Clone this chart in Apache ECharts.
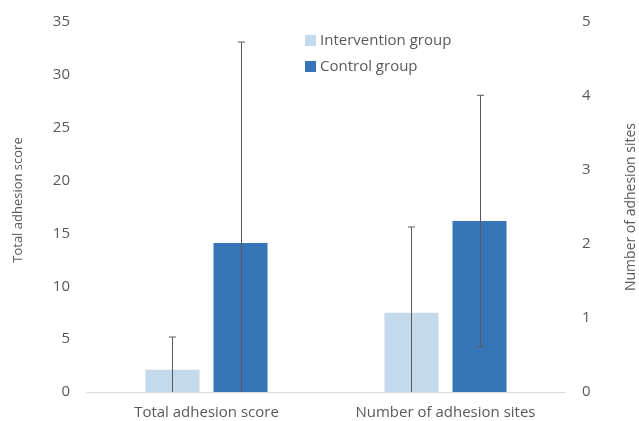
<!DOCTYPE html>
<html>
<head>
<meta charset="utf-8">
<script src="https://cdn.jsdelivr.net/npm/echarts@6/dist/echarts.min.js"></script>
<style>
  html, body { margin: 0; padding: 0; background: #fff; }
  #chart { width: 639px; height: 421px; }
</style>
</head>
<body>
<div id="chart"></div>
<script>
// Outcome measures (x-axis categories)
const categories = ['Total adhesion score', 'Number of adhesion sites'];
const groups = ['Intervention group', 'Control group'];

// Total adhesion score (left axis): mean and SD per group
const scoreMean = [2.1, 14.1];
const scoreSD = [3.1, 19.0];

// Number of adhesion sites (right axis): mean and SD per group
const sitesMean = [1.07, 2.31];
const sitesSD = [1.16, 1.70];

// Axis tick settings
const scoreTicks = { min: 0, max: 35, interval: 5 };
const sitesTicks = { min: 0, max: 5, interval: 1 };

const BAR_RATIO = 0.226;
const GAP_RATIO = 0.26;
const colors = ['#c3d9ec', '#3676b8'];
const FONT = '"Open Sans"';

function barData(values, catIndex, gi) {
  return categories.map((c, i) => (i === catIndex ? values[gi] : '-'));
}

// Error bars: mean ± SD, lower end cut at zero
function errorData(mean, sd, catIndex) {
  return groups.map((g, gi) => [
    catIndex, gi,
    Math.max(0, mean[gi] - sd[gi]),
    mean[gi] + sd[gi]
  ]);
}

function renderError(params, api) {
  const cat = api.value(0);
  const grp = api.value(1);
  const lo = api.value(2);
  const hi = api.value(3);
  const band = api.size([1, 0])[0];
  const bw = band * BAR_RATIO;
  const off = (grp === 0 ? -1 : 1) * (bw + bw * GAP_RATIO) / 2;
  const pHi = api.coord([cat, hi]);
  const pLo = api.coord([cat, lo]);
  const x = Math.round(pHi[0] + off) + 0.5;
  const cap = 3.5;
  const style = { stroke: '#595959', lineWidth: 1 };
  const children = [
    { type: 'line', shape: { x1: x, y1: pLo[1], x2: x, y2: pHi[1] }, style },
    { type: 'line', shape: { x1: x - cap, y1: pHi[1], x2: x + cap, y2: pHi[1] }, style }
  ];
  if (lo > 0) {
    children.push({ type: 'line', shape: { x1: x - cap, y1: pLo[1], x2: x + cap, y2: pLo[1] }, style });
  }
  return { type: 'group', children };
}

const chart = echarts.init(document.getElementById('chart'));

const labelStyle = { color: '#595959', fontSize: 15, fontFamily: FONT };
const titleStyle = { color: '#595959', fontSize: 13, fontFamily: FONT };

chart.setOption({
  animation: false,
  textStyle: { fontFamily: FONT },
  grid: { left: 87, right: 74, top: 22, bottom: 29, containLabel: false, outerBoundsMode: 'none' },
  legend: {
    data: groups,
    orient: 'vertical',
    left: 300,
    top: 28,
    itemWidth: 11,
    itemHeight: 11,
    itemGap: 11,
    icon: 'rect',
    textStyle: { color: '#595959', fontSize: 15, fontFamily: FONT, padding: [0, 0, 0, -1] },
    selectedMode: false
  },
  xAxis: [
    {
      type: 'category',
      data: categories,
      axisLine: { lineStyle: { color: '#d9d9d9', width: 1 } },
      axisTick: { show: false },
      axisLabel: Object.assign({ margin: 13 }, labelStyle)
    },
    {
      type: 'category',
      data: categories,
      show: false
    }
  ],
  yAxis: [
    Object.assign({
      type: 'value',
      position: 'left',
      name: 'Total adhesion score',
      nameLocation: 'middle',
      nameGap: 62,
      nameTextStyle: Object.assign({}, titleStyle, { padding: [0, 0, 0, 14] }),
      axisLine: { show: false },
      axisTick: { show: false },
      splitLine: { show: false },
      axisLabel: Object.assign({ margin: 17 }, labelStyle)
    }, scoreTicks),
    Object.assign({
      type: 'value',
      position: 'right',
      name: 'Number of adhesion sites',
      nameLocation: 'middle',
      nameGap: 59,
      nameTextStyle: Object.assign({}, titleStyle, { fontSize: 14 }),
      axisLine: { show: false },
      axisTick: { show: false },
      splitLine: { show: false },
      axisLabel: Object.assign({ margin: 17 }, labelStyle)
    }, sitesTicks)
  ],
  series: [
    // Total adhesion score bars
    ...groups.map((g, gi) => ({
      name: g,
      type: 'bar',
      xAxisIndex: 0,
      yAxisIndex: 0,
      barWidth: (BAR_RATIO * 100) + '%',
      barGap: (GAP_RATIO * 100) + '%',
      itemStyle: { color: colors[gi] },
      data: barData(scoreMean, 0, gi)
    })),
    // Number of adhesion sites bars
    ...groups.map((g, gi) => ({
      name: g,
      type: 'bar',
      xAxisIndex: 1,
      yAxisIndex: 1,
      barWidth: (BAR_RATIO * 100) + '%',
      barGap: (GAP_RATIO * 100) + '%',
      itemStyle: { color: colors[gi] },
      data: barData(sitesMean, 1, gi)
    })),
    {
      type: 'custom',
      xAxisIndex: 0,
      yAxisIndex: 0,
      z: 5,
      renderItem: renderError,
      encode: { x: 0, y: [2, 3] },
      data: errorData(scoreMean, scoreSD, 0)
    },
    {
      type: 'custom',
      xAxisIndex: 1,
      yAxisIndex: 1,
      z: 5,
      renderItem: renderError,
      encode: { x: 0, y: [2, 3] },
      data: errorData(sitesMean, sitesSD, 1)
    }
  ]
});
</script>
</body>
</html>
